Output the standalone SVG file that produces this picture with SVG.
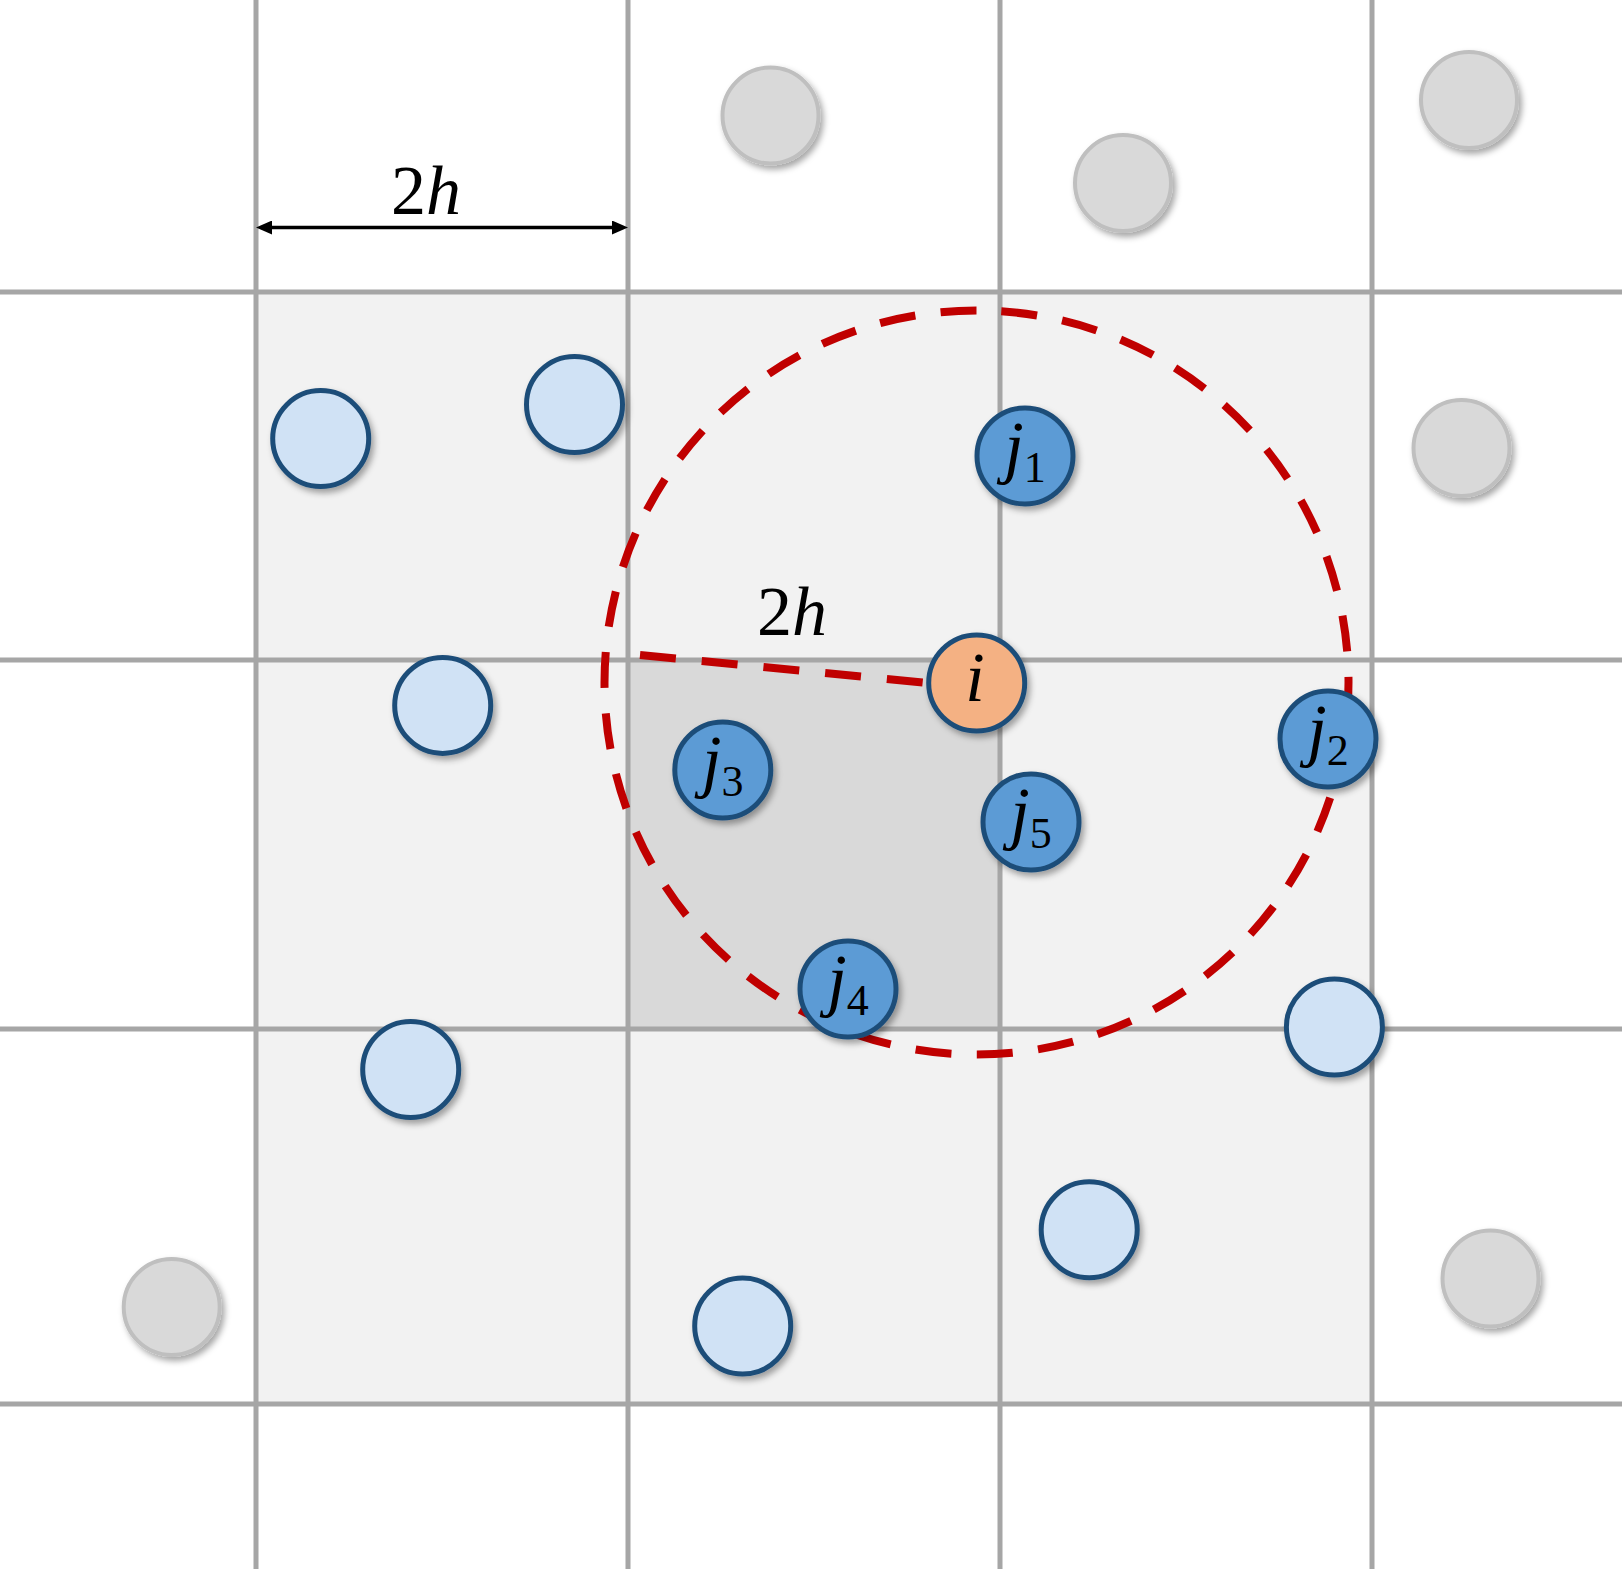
<svg xmlns="http://www.w3.org/2000/svg" width="1622" height="1569" viewBox="0 0 1622 1569">
<style>
.grid{stroke:#a6a6a6;stroke-width:5;fill:none}
.red{stroke:#c00000;stroke-width:8;fill:none;stroke-dasharray:36 25.5}
.gray{fill:#d9d9d9;stroke:#bfbfbf;stroke-width:4;filter:url(#sh)}
.light{fill:#d0e2f5;stroke:#1f4e79;stroke-width:5;filter:url(#sh)}
.dark{fill:#5b9bd5;stroke:#1f4e79;stroke-width:5;filter:url(#sh)}
.orange{fill:#f4b183;stroke:#1f4e79;stroke-width:5;filter:url(#sh)}
.lbl{font-family:"Liberation Serif","DejaVu Serif",serif;font-size:70px;fill:#000}
.it{font-style:italic}
.sub{font-size:44px;font-style:normal}
</style>
<defs>
<filter id="sh" x="-30%" y="-30%" width="160%" height="160%">
<feDropShadow dx="3" dy="4" stdDeviation="3" flood-color="#000" flood-opacity="0.35"/>
</filter>
<marker id="ah" viewBox="0 0 16 14" refX="10" refY="7" markerWidth="16" markerHeight="14" markerUnits="userSpaceOnUse" orient="auto-start-reverse">
<path d="M0,0 L16,7 L0,14 z" fill="#000"/>
</marker>
</defs>
<rect width="1622" height="1569" fill="#fff"/>
<g id="cells">
<rect x="256" y="292" width="1116" height="1112" fill="#f2f2f2"/>
<rect x="628" y="660" width="372" height="369" fill="#d9d9d9"/>
</g>
<g id="grid" class="grid">
<line x1="256" y1="0" x2="256" y2="1569"/>
<line x1="628" y1="0" x2="628" y2="1569"/>
<line x1="1000" y1="0" x2="1000" y2="1569"/>
<line x1="1372" y1="0" x2="1372" y2="1569"/>
<line x1="0" y1="292" x2="1622" y2="292"/>
<line x1="0" y1="660" x2="1622" y2="660"/>
<line x1="0" y1="1029" x2="1622" y2="1029"/>
<line x1="0" y1="1404" x2="1622" y2="1404"/>
</g>
<g id="connectors">
<path class="red" d="M976.5,310.5 A372,372 0 1,0 976.5,1054.5 A372,372 0 1,0 976.5,310.5"/>
<line class="red" x1="640" y1="655" x2="928" y2="683" style="stroke-dasharray:36 26"/>
<line x1="262" y1="227.5" x2="622" y2="227.5" stroke="#000" stroke-width="3.5" marker-start="url(#ah)" marker-end="url(#ah)"/>
</g>
<g id="labels">
<text class="lbl" x="426" y="214" text-anchor="middle">2<tspan class="it">h</tspan></text>
<text class="lbl" x="792" y="635" text-anchor="middle">2<tspan class="it">h</tspan></text>
</g>
<g id="gray1"><circle class="gray" cx="770.5" cy="115.5" r="48"/></g>
<g id="gray2"><circle class="gray" cx="1123" cy="183" r="48"/></g>
<g id="gray3"><circle class="gray" cx="1469" cy="100" r="48"/></g>
<g id="gray4"><circle class="gray" cx="1461.5" cy="448" r="48"/></g>
<g id="gray5"><circle class="gray" cx="171.7" cy="1307" r="48"/></g>
<g id="gray6"><circle class="gray" cx="1490.5" cy="1278.5" r="48"/></g>
<g id="lb1"><circle class="light" cx="320.7" cy="438.6" r="48"/></g>
<g id="lb2"><circle class="light" cx="574.5" cy="404.5" r="48"/></g>
<g id="lb3"><circle class="light" cx="442.7" cy="705.4" r="48"/></g>
<g id="lb4"><circle class="light" cx="410.7" cy="1069.5" r="48"/></g>
<g id="lb5"><circle class="light" cx="1334.4" cy="1027" r="48"/></g>
<g id="lb6"><circle class="light" cx="1089.2" cy="1229.8" r="48"/></g>
<g id="lb7"><circle class="light" cx="742.7" cy="1326" r="48"/></g>
<g id="j1"><circle class="dark" cx="1025" cy="456" r="48"/><text class="lbl" x="1025" y="470" text-anchor="middle"><tspan class="it">j</tspan><tspan class="sub" dy="12">1</tspan></text></g>
<g id="j2"><circle class="dark" cx="1328" cy="739" r="48"/><text class="lbl" x="1328" y="753" text-anchor="middle"><tspan class="it">j</tspan><tspan class="sub" dy="12">2</tspan></text></g>
<g id="j3"><circle class="dark" cx="722.8" cy="770" r="48"/><text class="lbl" x="722.8" y="784" text-anchor="middle"><tspan class="it">j</tspan><tspan class="sub" dy="12">3</tspan></text></g>
<g id="j4"><circle class="dark" cx="848" cy="989" r="48"/><text class="lbl" x="848" y="1003" text-anchor="middle"><tspan class="it">j</tspan><tspan class="sub" dy="12">4</tspan></text></g>
<g id="j5"><circle class="dark" cx="1031" cy="822" r="48"/><text class="lbl" x="1031" y="836" text-anchor="middle"><tspan class="it">j</tspan><tspan class="sub" dy="12">5</tspan></text></g>
<g id="i"><circle class="orange" cx="976.7" cy="683" r="48"/><text class="lbl it" x="975" y="701" text-anchor="middle">i</text></g>
</svg>
